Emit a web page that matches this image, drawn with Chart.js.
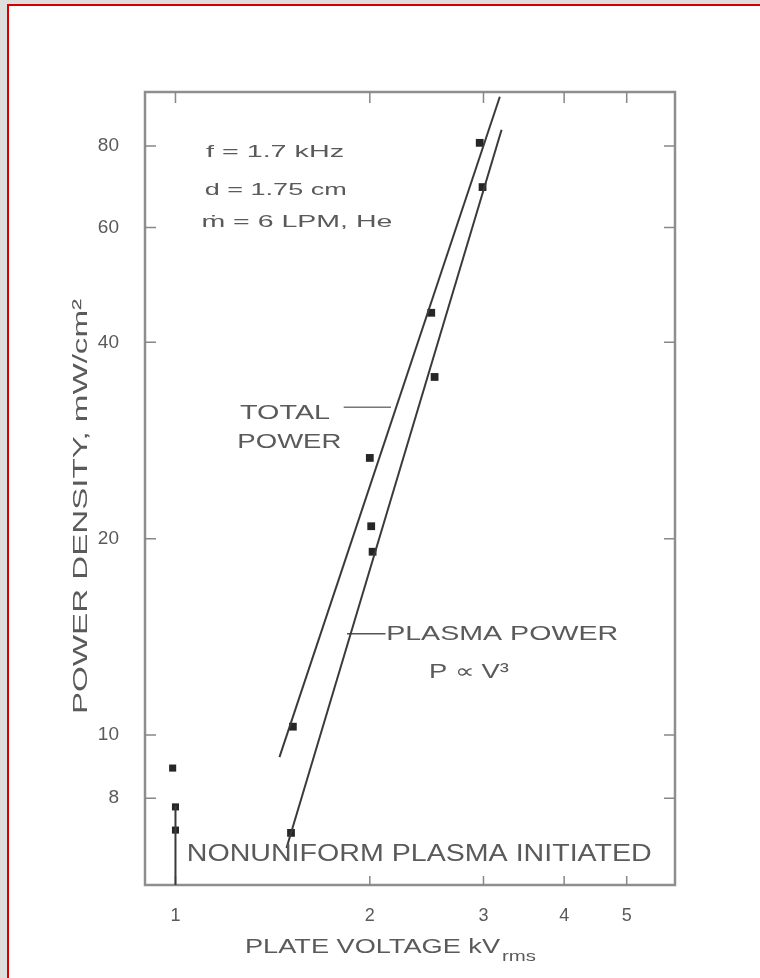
<!DOCTYPE html>
<html>
<head>
<meta charset="utf-8">
<script src="https://cdn.jsdelivr.net/npm/chart.js@4.4.1/dist/chart.umd.min.js"></script>
<style>
  html, body { margin: 0; padding: 0; background: #dedede; width: 760px; height: 978px; overflow: hidden; }
  #sheet { position: absolute; left: 7px; top: 4px; right: 0; bottom: 0; background: #fff;
           border-left: 2px solid #d40000; border-top: 2px solid #d40000; }
  #plot { position: absolute; left: 0; top: 0; }
</style>
</head>
<body>
<div id="sheet"></div>
<canvas id="plot" width="760" height="978"></canvas>
<script>
// values (kV rms, mW/cm^2)
var totalV = [1.52, 2.00, 2.49, 2.96];
var totalP = [10.3, 26.6, 44.4, 80.9];
var plasmaV = [1.51, 2.01, 2.02, 2.52, 2.99];
var plasmaP = [7.08, 20.9, 19.1, 35.4, 69.2];
var lowV = [0.99, 1.0, 1.0];
var lowP = [8.9, 7.76, 7.15];
var totalFitV = [1.449, 3.18];
var totalFitP = [9.25, 95.2];
var plasmaFitV = [1.486, 3.20];
var plasmaFitP = [6.71, 84.7];
var onsetV = [1.0, 1.0];
var onsetP = [7.8, 5.89];
var totalLeadV = [1.822, 2.157];
var totalLeadP = [31.8, 31.8];
var plasmaLeadV = [1.844, 2.115];
var plasmaLeadP = [14.3, 14.3];
var xTicks = [1, 2, 3, 4, 5];
var yTicks = [8, 10, 20, 40, 60, 80];

var FONT = "'Liberation Sans', Arial, sans-serif";
var INK = '#3a3a3a';
var TXT = '#5a5a5a';

function pts(xs, ys) {
  return xs.map(function (x, i) { return { x: x, y: ys[i] }; });
}

// text notes placed in data coordinates, width = target width in px
var notes = [
  { t: 'f = 1.7 kHz', x: 1.115, y: 78.2, size: 17, w: 138 },
  { t: 'd = 1.75 cm', x: 1.11, y: 68.5, size: 17, w: 142 },
  { t: 'ṁ = 6 LPM, He', x: 1.097, y: 61.2, size: 17, w: 191 },
  { t: 'TOTAL', x: 1.259, y: 31.2, size: 21, w: 90 },
  { t: 'POWER', x: 1.247, y: 28.1, size: 21, w: 104 },
  { t: 'PLASMA POWER', x: 2.12, y: 14.3, size: 21, w: 232 },
  { t: 'P ∝ V³', x: 2.47, y: 12.45, size: 20, w: 80 },
  { t: 'NONUNIFORM PLASMA INITIATED', x: 1.041, y: 6.55, size: 23, w: 465 }
];

function fitText(ctx, str, x, y, size, w, align) {
  ctx.font = size + 'px ' + FONT;
  var m = ctx.measureText(str).width;
  ctx.save();
  ctx.translate(x, y);
  ctx.scale(w / m, 1);
  ctx.textAlign = align || 'left';
  ctx.textBaseline = 'middle';
  ctx.fillText(str, 0, 0);
  ctx.restore();
}

var chart_plateVoltage = new Chart(document.getElementById('plot'), {
  type: 'scatter',
  data: {
    datasets: [
      { label: 'Total power fit', data: pts(totalFitV, totalFitP), showLine: true,
        borderColor: INK, borderWidth: 2, pointRadius: 0 },
      { label: 'Plasma power fit', data: pts(plasmaFitV, plasmaFitP), showLine: true,
        borderColor: INK, borderWidth: 2, pointRadius: 0 },
      { label: 'Onset', data: pts(onsetV, onsetP), showLine: true,
        borderColor: INK, borderWidth: 2, pointRadius: 0 },
      { label: 'Total leader', data: pts(totalLeadV, totalLeadP), showLine: true,
        borderColor: '#777', borderWidth: 1.5, pointRadius: 0 },
      { label: 'Plasma leader', data: pts(plasmaLeadV, plasmaLeadP), showLine: true,
        borderColor: '#555', borderWidth: 1.5, pointRadius: 0 },
      { label: 'Total power', data: pts(totalV, totalP), pointStyle: 'rect',
        pointRadius: 5.5, backgroundColor: '#262626', borderColor: '#262626', borderWidth: 0 },
      { label: 'Plasma power', data: pts(plasmaV, plasmaP), pointStyle: 'rect',
        pointRadius: 5.5, backgroundColor: '#262626', borderColor: '#262626', borderWidth: 0 },
      { label: 'Low voltage', data: pts(lowV, lowP), pointStyle: 'rect',
        pointRadius: 5, backgroundColor: '#262626', borderColor: '#262626', borderWidth: 0 }
    ]
  },
  options: {
    animation: false,
    responsive: false,
    events: [],
    layout: { padding: { top: 92, right: 85, left: 0, bottom: 0 } },
    plugins: {
      legend: { display: false },
      tooltip: { enabled: false },
      title: { display: false }
    },
    scales: {
      x: {
        type: 'logarithmic',
        min: 0.897,
        max: 5.94,
        afterBuildTicks: function (s) { s.ticks = xTicks.map(function (v) { return { value: v }; }); },
        afterFit: function (s) { s.height = 93; },
        grid: { display: false, drawTicks: false },
        border: { display: false },
        ticks: {
          autoSkip: false, maxRotation: 0, padding: 20, color: TXT,
          font: { family: FONT, size: 18 },
          callback: function (v) { return String(v); }
        }
      },
      y: {
        type: 'logarithmic',
        min: 5.89,
        max: 96.8,
        afterBuildTicks: function (s) { s.ticks = yTicks.map(function (v) { return { value: v }; }); },
        afterFit: function (s) { s.width = 145; },
        grid: { display: false, drawTicks: false },
        border: { display: false },
        ticks: {
          autoSkip: false, padding: 26, color: TXT,
          font: { family: FONT, size: 19 },
          callback: function (v) { return String(v); }
        }
      }
    }
  },
  plugins: [{
    id: 'frameAndNotes',
    beforeDatasetsDraw: function (chart) {
      var ctx = chart.ctx, a = chart.chartArea;
      var xs = chart.scales.x, ys = chart.scales.y;
      ctx.save();
      ctx.strokeStyle = '#8e8e8e';
      ctx.lineWidth = 2.5;
      ctx.strokeRect(a.left, a.top, a.right - a.left, a.bottom - a.top);
      ctx.lineWidth = 1.5;
      ctx.strokeStyle = '#888';
      ctx.beginPath();
      yTicks.forEach(function (v) {
        var y = ys.getPixelForValue(v);
        ctx.moveTo(a.left, y); ctx.lineTo(a.left + 11, y);
        ctx.moveTo(a.right, y); ctx.lineTo(a.right - 11, y);
      });
      xTicks.forEach(function (v) {
        var x = xs.getPixelForValue(v);
        ctx.moveTo(x, a.bottom); ctx.lineTo(x, a.bottom - 9);
        ctx.moveTo(x, a.top); ctx.lineTo(x, a.top + 11);
      });
      ctx.stroke();
      ctx.restore();
    },
    afterDatasetsDraw: function (chart) {
      var ctx = chart.ctx, a = chart.chartArea;
      var xs = chart.scales.x, ys = chart.scales.y;
      ctx.save();
      ctx.fillStyle = TXT;
      notes.forEach(function (n) {
        fitText(ctx, n.t, xs.getPixelForValue(n.x), ys.getPixelForValue(n.y), n.size, n.w, 'left');
      });
      // y axis title
      ctx.save();
      ctx.translate(a.left - 64, (a.top + a.bottom) / 2 + 18);
      ctx.rotate(-Math.PI / 2);
      fitText(ctx, 'POWER DENSITY, mW/cm²', 0, 0, 21, 415, 'center');
      ctx.restore();
      // x axis title with subscript
      fitText(ctx, 'PLATE VOLTAGE kV', 245, 947, 20, 255, 'left');
      fitText(ctx, 'rms', 502, 957, 15, 34, 'left');
      ctx.restore();
    }
  }]
});
</script>
</body>
</html>
